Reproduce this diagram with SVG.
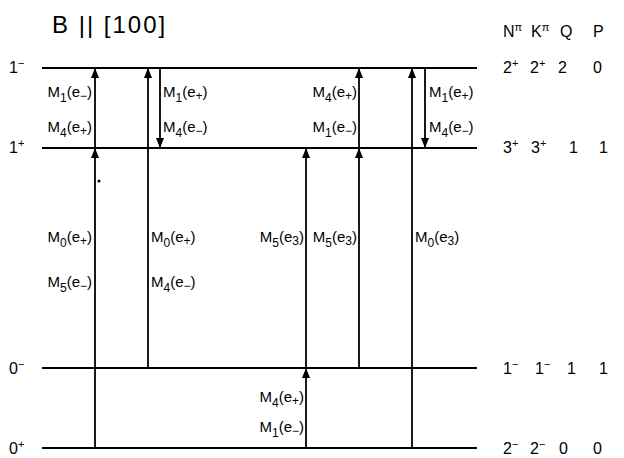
<svg xmlns="http://www.w3.org/2000/svg" width="624" height="458" viewBox="0 0 624 458">
<style>
text{font-family:"Liberation Sans","DejaVu Sans",Arial,sans-serif;fill:#000}
.lv{stroke:#000;stroke-width:2;fill:none}
.tr{stroke:#000;stroke-width:1.8;fill:none}
.lab{font-size:15px}
.s{font-size:12px}
.num{font-size:16px}
.sup{font-size:11px}
.title{font-size:24px;letter-spacing:2px}
</style>
<defs>
<marker id="ah" viewBox="0 0 10 8" refX="10" refY="4" markerWidth="10" markerHeight="8" markerUnits="userSpaceOnUse" orient="auto">
<path d="M0,0 L10,4 L0,8 z" fill="#000"/>
</marker>
</defs>
<text class="title" x="52" y="33">B || [100]</text>
<g id="header">
<text class="num" x="503" y="37">N<tspan class="sup" dy="-6">π</tspan></text>
<text class="num" x="531" y="37">K<tspan class="sup" dy="-6">π</tspan></text>
<text class="num" x="560" y="37">Q</text>
<text class="num" x="593" y="37">P</text>
</g>
<g id="level-1m">
<line class="lv" x1="42" y1="68" x2="477" y2="68"/>
<text class="num" x="9" y="73">1<tspan class="sup" dy="-6">−</tspan></text>
<text class="num" x="503" y="73">2<tspan class="sup" dy="-6">+</tspan></text>
<text class="num" x="530" y="73">2<tspan class="sup" dy="-6">+</tspan></text>
<text class="num" x="558" y="73">2</text>
<text class="num" x="593" y="73">0</text>
</g>
<g id="level-1p">
<line class="lv" x1="42" y1="148" x2="477" y2="148"/>
<text class="num" x="9" y="153">1<tspan class="sup" dy="-6">+</tspan></text>
<text class="num" x="503" y="153">3<tspan class="sup" dy="-6">+</tspan></text>
<text class="num" x="531" y="153">3<tspan class="sup" dy="-6">+</tspan></text>
<text class="num" x="569" y="153">1</text>
<text class="num" x="599" y="153">1</text>
</g>
<g id="level-0m">
<line class="lv" x1="42" y1="368" x2="477" y2="368"/>
<text class="num" x="9" y="374">0<tspan class="sup" dy="-6">−</tspan></text>
<text class="num" x="503" y="374">1<tspan class="sup" dy="-6">−</tspan></text>
<text class="num" x="535" y="374">1<tspan class="sup" dy="-6">−</tspan></text>
<text class="num" x="567" y="374">1</text>
<text class="num" x="599" y="374">1</text>
</g>
<g id="level-0p">
<line class="lv" x1="42" y1="448" x2="477" y2="448"/>
<text class="num" x="9" y="454">0<tspan class="sup" dy="-6">+</tspan></text>
<text class="num" x="503" y="454">2<tspan class="sup" dy="-6">−</tspan></text>
<text class="num" x="530" y="454">2<tspan class="sup" dy="-6">−</tspan></text>
<text class="num" x="559" y="454">0</text>
<text class="num" x="593" y="454">0</text>
</g>
<g id="connectors">
<line class="tr" x1="95" y1="448" x2="95" y2="148" marker-end="url(#ah)"/>
<line class="tr" x1="95" y1="148" x2="95" y2="68" marker-end="url(#ah)"/>
<line class="tr" x1="148" y1="368" x2="148" y2="68" marker-end="url(#ah)"/>
<line class="tr" x1="160" y1="68" x2="160" y2="148" marker-end="url(#ah)"/>
<line class="tr" x1="306" y1="448" x2="306" y2="368" marker-end="url(#ah)"/>
<line class="tr" x1="306" y1="368" x2="306" y2="148" marker-end="url(#ah)"/>
<line class="tr" x1="359" y1="368" x2="359" y2="148" marker-end="url(#ah)"/>
<line class="tr" x1="359" y1="148" x2="359" y2="68" marker-end="url(#ah)"/>
<line class="tr" x1="412" y1="448" x2="412" y2="68" marker-end="url(#ah)"/>
<line class="tr" x1="425" y1="68" x2="425" y2="148" marker-end="url(#ah)"/>
</g>
<circle cx="99" cy="181" r="1.5" fill="#000"/>
<g id="labels">
<text class="lab" x="92" y="97" text-anchor="end">M<tspan class="s" dy="5">1</tspan><tspan dy="-5">(e</tspan><tspan class="s" dy="3">−</tspan><tspan dy="-3">)</tspan></text>
<text class="lab" x="92" y="132" text-anchor="end">M<tspan class="s" dy="5">4</tspan><tspan dy="-5">(e</tspan><tspan class="s" dy="3">+</tspan><tspan dy="-3">)</tspan></text>
<text class="lab" x="163" y="97">M<tspan class="s" dy="5">1</tspan><tspan dy="-5">(e</tspan><tspan class="s" dy="3">+</tspan><tspan dy="-3">)</tspan></text>
<text class="lab" x="163" y="132">M<tspan class="s" dy="5">4</tspan><tspan dy="-5">(e</tspan><tspan class="s" dy="3">−</tspan><tspan dy="-3">)</tspan></text>
<text class="lab" x="357" y="97" text-anchor="end">M<tspan class="s" dy="5">4</tspan><tspan dy="-5">(e</tspan><tspan class="s" dy="3">+</tspan><tspan dy="-3">)</tspan></text>
<text class="lab" x="357" y="132" text-anchor="end">M<tspan class="s" dy="5">1</tspan><tspan dy="-5">(e</tspan><tspan class="s" dy="3">−</tspan><tspan dy="-3">)</tspan></text>
<text class="lab" x="429" y="97">M<tspan class="s" dy="5">1</tspan><tspan dy="-5">(e</tspan><tspan class="s" dy="3">+</tspan><tspan dy="-3">)</tspan></text>
<text class="lab" x="429" y="132">M<tspan class="s" dy="5">4</tspan><tspan dy="-5">(e</tspan><tspan class="s" dy="3">−</tspan><tspan dy="-3">)</tspan></text>
<text class="lab" x="92" y="242" text-anchor="end">M<tspan class="s" dy="5">0</tspan><tspan dy="-5">(e</tspan><tspan class="s" dy="3">+</tspan><tspan dy="-3">)</tspan></text>
<text class="lab" x="92" y="287" text-anchor="end">M<tspan class="s" dy="5">5</tspan><tspan dy="-5">(e</tspan><tspan class="s" dy="3">−</tspan><tspan dy="-3">)</tspan></text>
<text class="lab" x="151" y="242">M<tspan class="s" dy="5">0</tspan><tspan dy="-5">(e</tspan><tspan class="s" dy="3">+</tspan><tspan dy="-3">)</tspan></text>
<text class="lab" x="151" y="287">M<tspan class="s" dy="5">4</tspan><tspan dy="-5">(e</tspan><tspan class="s" dy="3">−</tspan><tspan dy="-3">)</tspan></text>
<text class="lab" x="304" y="242" text-anchor="end">M<tspan class="s" dy="5">5</tspan><tspan dy="-5">(e</tspan><tspan class="s" dy="3">3</tspan><tspan dy="-3">)</tspan></text>
<text class="lab" x="357" y="242" text-anchor="end">M<tspan class="s" dy="5">5</tspan><tspan dy="-5">(e</tspan><tspan class="s" dy="3">3</tspan><tspan dy="-3">)</tspan></text>
<text class="lab" x="415" y="242">M<tspan class="s" dy="5">0</tspan><tspan dy="-5">(e</tspan><tspan class="s" dy="3">3</tspan><tspan dy="-3">)</tspan></text>
<text class="lab" x="304" y="402" text-anchor="end">M<tspan class="s" dy="5">4</tspan><tspan dy="-5">(e</tspan><tspan class="s" dy="3">+</tspan><tspan dy="-3">)</tspan></text>
<text class="lab" x="304" y="432" text-anchor="end">M<tspan class="s" dy="5">1</tspan><tspan dy="-5">(e</tspan><tspan class="s" dy="3">−</tspan><tspan dy="-3">)</tspan></text>
</g>
</svg>
